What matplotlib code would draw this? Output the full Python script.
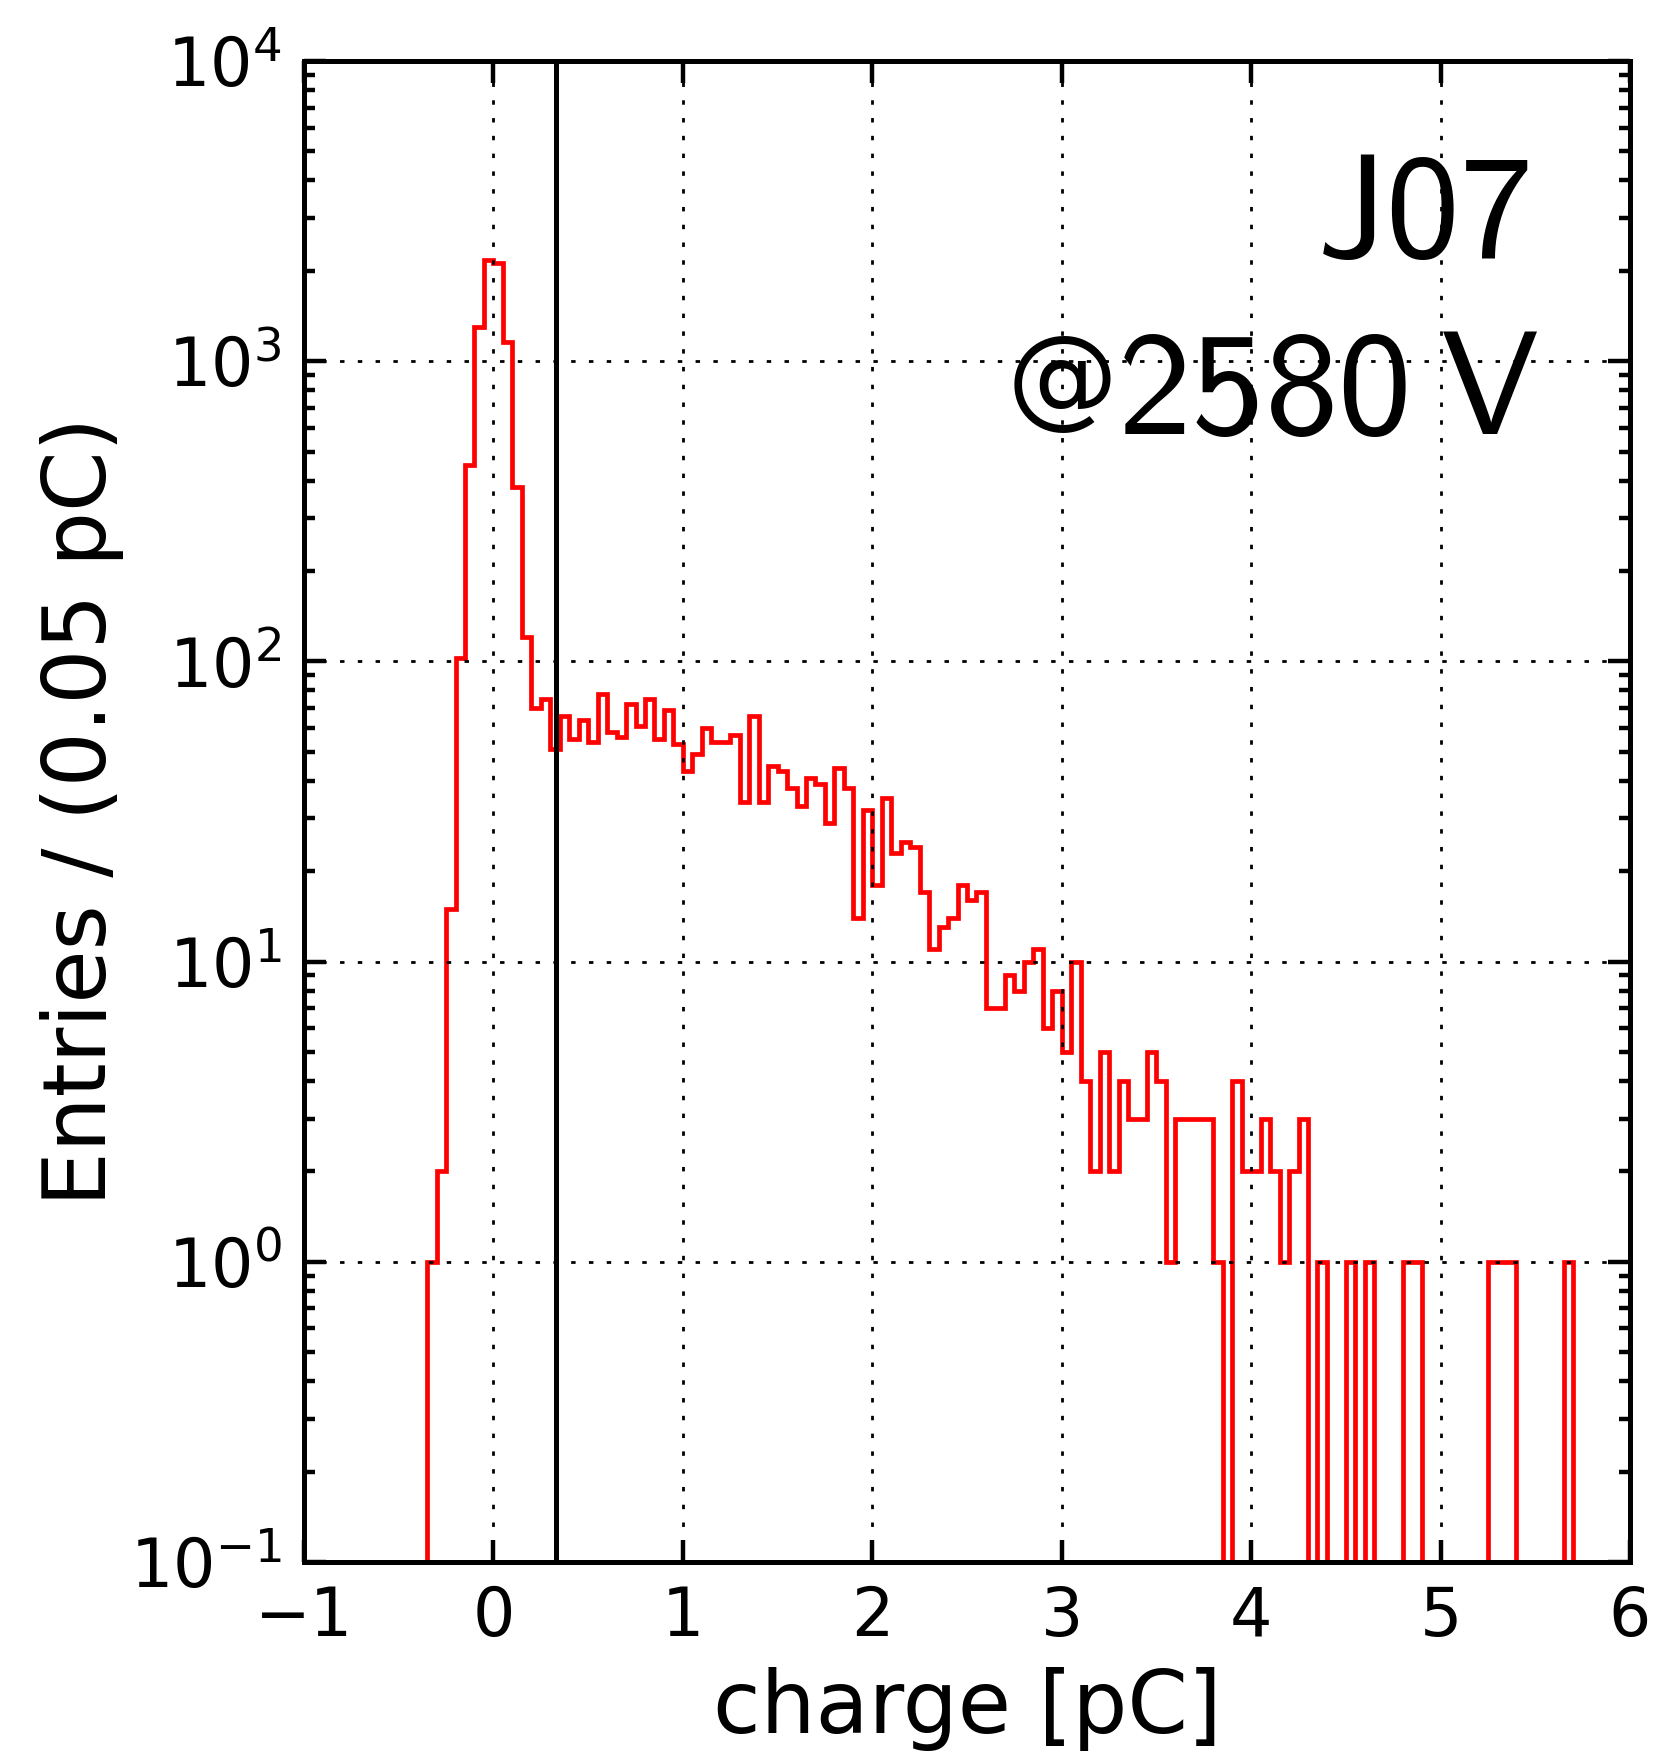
import numpy as np
import matplotlib
matplotlib.use("Agg")
import matplotlib.pyplot as plt
from matplotlib.ticker import LogLocator, FuncFormatter, NullFormatter

# histogram of charge, 0.05 pC bins starting at -0.35 pC
bin_start = -0.35
bin_width = 0.05
counts = [
    1, 2, 15, 103, 450, 1300, 2180, 2130, 1160, 380,      # -0.35 .. 0.10
    121, 70, 75, 51, 66, 55, 64, 54, 78, 58,              # 0.15 .. 0.60
    56, 72, 61, 75, 55, 69, 53, 43, 49, 60,               # 0.65 .. 1.10
    54, 54, 57, 34, 66, 34, 45, 43, 38, 33,               # 1.15 .. 1.60
    41, 39, 29, 44, 38, 14, 32, 18, 35, 23,               # 1.65 .. 2.10
    25, 24, 17, 11, 13, 14, 18, 16, 17, 7,                # 2.15 .. 2.60
    7, 9, 8, 10, 11, 6, 8, 5, 10, 4,                      # 2.65 .. 3.10
    2, 5, 2, 4, 3, 3, 5, 4, 1, 3,                         # 3.15 .. 3.60
    3, 3, 3, 1, 0, 4, 2, 2, 3, 2,                         # 3.65 .. 4.10
    1, 2, 3, 0, 1, 0, 0, 1, 0, 1,                         # 4.15 .. 4.60
    0, 0, 0, 1, 1, 0, 0, 0, 0, 0,                         # 4.65 .. 5.10
    0, 0, 1, 1, 1, 0, 0, 0, 0, 0,                         # 5.15 .. 5.60
    1,                                                    # 5.65
]
threshold = 0.33
pmt_name = "J07"
pmt_voltage = "2580"

x_ticks = [-1, 0, 1, 2, 3, 4, 5, 6]

plt.rcParams["font.family"] = "DejaVu Sans"
plt.rcParams["lines.scale_dashes"] = False
# sans-serif computer modern for the label in the corner
plt.rcParams["mathtext.fontset"] = "custom"
plt.rcParams["mathtext.sf"] = "cmss10"
plt.rcParams["mathtext.rm"] = "DejaVu Sans"

edges = np.round(bin_start + bin_width * np.arange(len(counts) + 1), 3)

fig = plt.figure(figsize=(1654 / 400, 1753 / 400), dpi=400)
ax = fig.add_axes([304 / 1654, 1 - 1562 / 1753, (1630 - 304) / 1654, (1562 - 61) / 1753])

ax.set_yscale("log")
ax.stairs(counts, edges, color="red", linewidth=0.85, baseline=0)
ax.axvline(threshold, color="black", linewidth=0.9)

ax.set_xlim(-1, 6)
ax.set_ylim(0.1, 1e4)
ax.set_xticks(x_ticks)
ax.yaxis.set_major_locator(LogLocator(base=10, numticks=10))
ax.yaxis.set_minor_locator(LogLocator(base=10, subs=np.arange(2, 10), numticks=10))
ax.yaxis.set_minor_formatter(NullFormatter())
ax.yaxis.set_major_formatter(
    FuncFormatter(lambda v, p: r"$\mathdefault{10^{%d}}$" % round(np.log10(v)))
)

ax.grid(True, which="major", color="black", linewidth=0.5, linestyle=(0, (0.8, 2.4)))
ax.tick_params(which="both", direction="in", top=True, right=True, labelsize=12, pad=4)
ax.tick_params(which="major", length=4, width=0.8)
ax.tick_params(which="minor", length=2, width=0.8)
for sp in ax.spines.values():
    sp.set_linewidth(0.9)

ax.set_xlabel("charge [pC]", fontsize=15.6, labelpad=3)
ax.set_ylabel("Entries / (0.05 pC)", fontsize=15.6, labelpad=1)

ax.text(0.923, 0.8694, r"$\mathsf{%s}$" % pmt_name, transform=ax.transAxes,
        ha="right", va="baseline", fontsize=26.5)
ax.text(0.931, 0.7515, r"$\mathsf{%s}\hspace{0.2}\mathsf{V}$" % pmt_voltage,
        transform=ax.transAxes, ha="right", va="baseline", fontsize=26.5)
# cmss10 has no usable @, take it from DejaVu Sans
ax.text(0.614, 0.7645, "@", transform=ax.transAxes,
        ha="right", va="baseline", fontsize=20)

fig.savefig("out.png", dpi=400)
